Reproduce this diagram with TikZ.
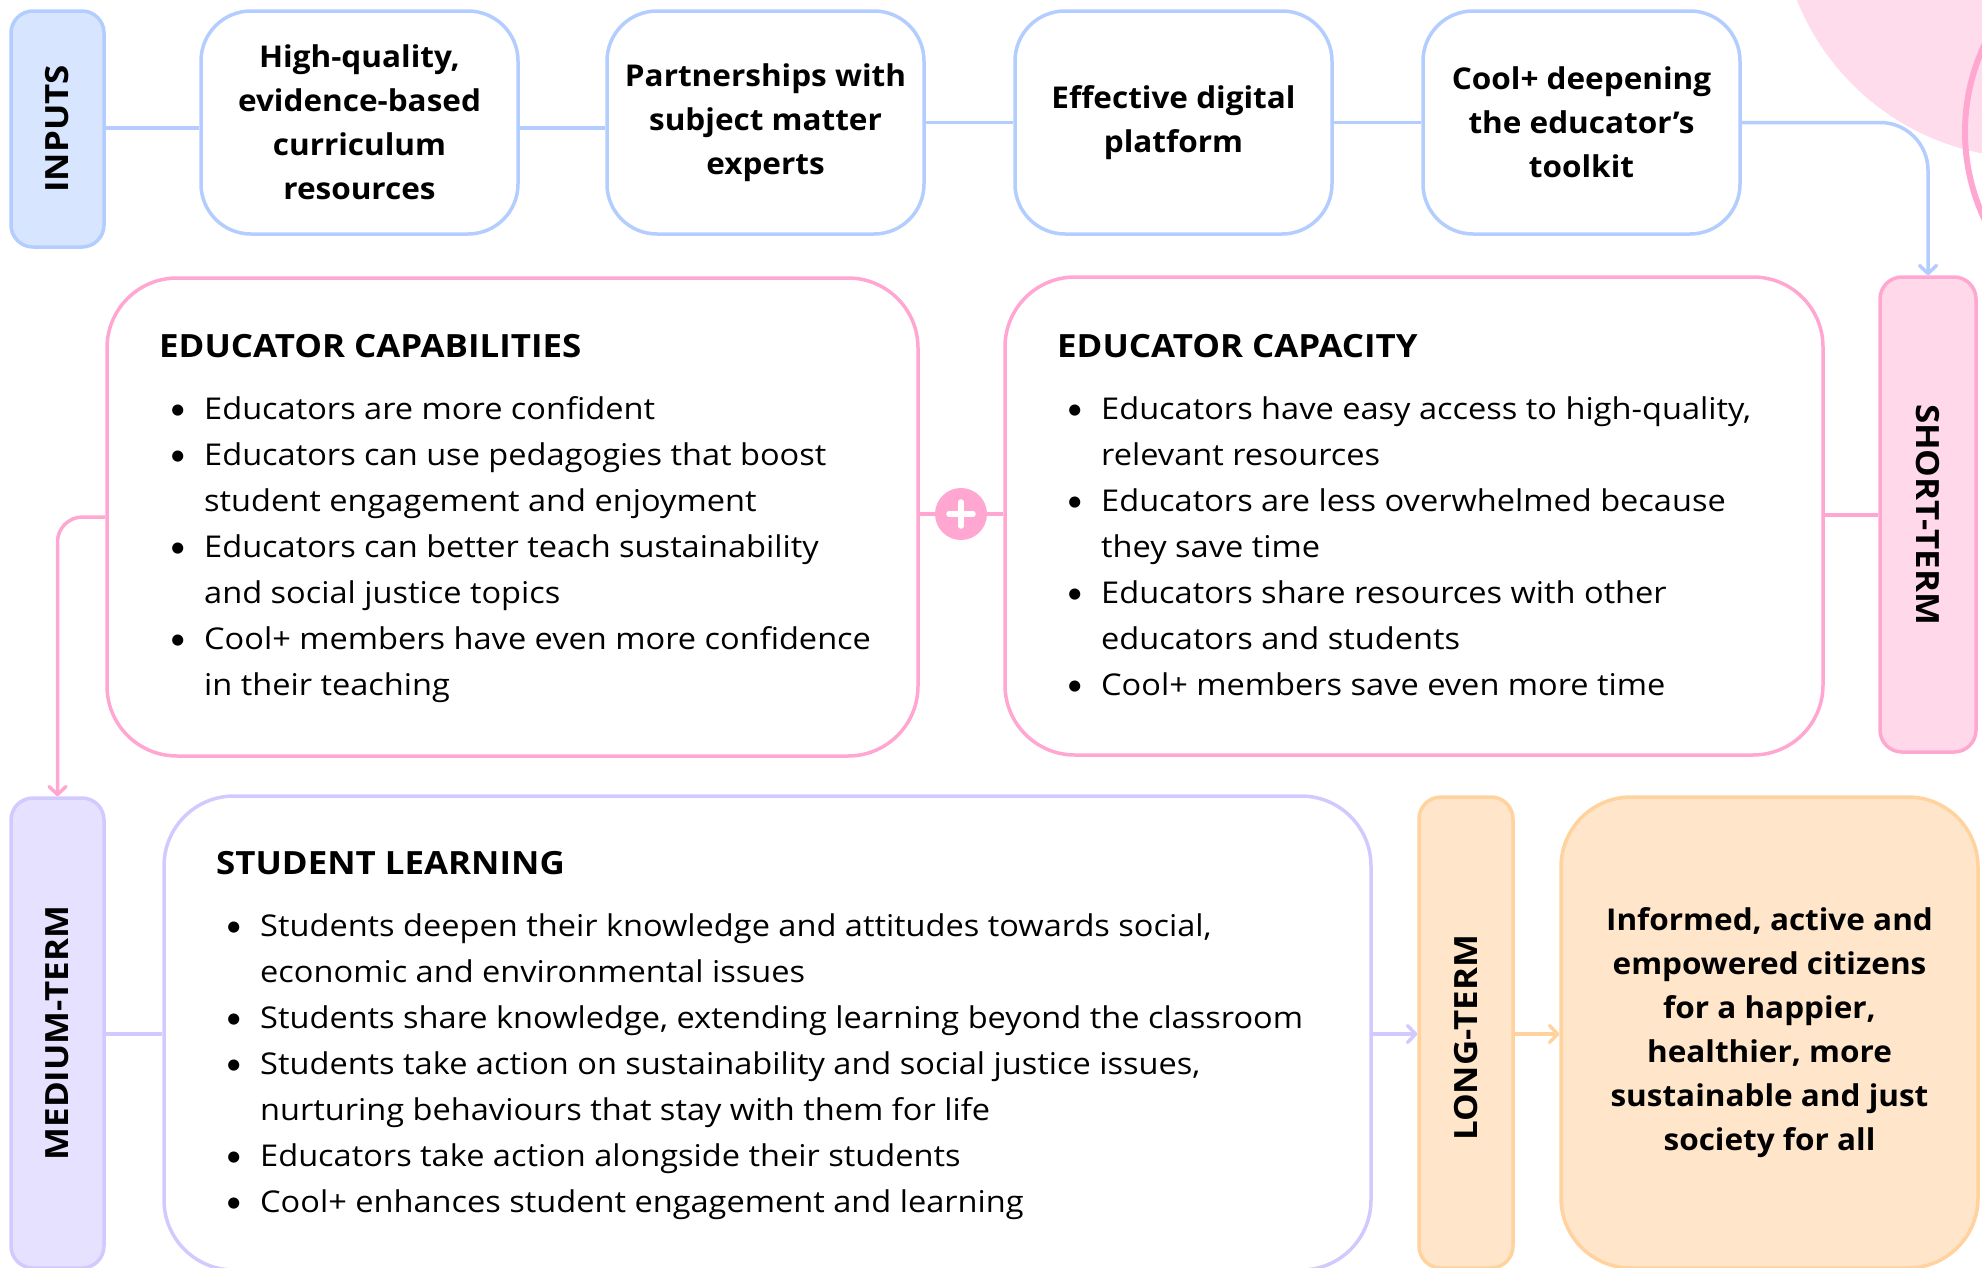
\documentclass[tikz,border=0pt]{standalone}
\usepackage{fontspec}
\setmainfont{Open Sans}
\newfontfamily\bodyf{Open Sans}[FakeStretch=1.085]
\newfontfamily\boldf{Open Sans}[FakeStretch=1.05]
\newfontfamily\capsf{Open Sans}[FakeStretch=1.09]
\newfontfamily\latof{Lato}
\usetikzlibrary{arrows.meta}
\definecolor{blueS}{HTML}{B3CDFF}
\definecolor{blueF}{HTML}{D7E5FF}
\definecolor{pinkS}{HTML}{FFA7D1}
\definecolor{pinkF}{HTML}{FFD8EA}
\definecolor{pinkBG}{HTML}{FFDCEC}
\definecolor{lavS}{HTML}{D2C9FF}
\definecolor{lavF}{HTML}{E6E1FF}
\definecolor{orS}{HTML}{FFD29E}
\definecolor{orF}{HTML}{FFE5C9}
\newcommand\bl{\makebox[35pt][l]{{\latof\textbullet}}}
\newcommand\ct{\hspace*{35pt}}
\tikzset{
  inbox/.style={draw=blueS, fill=white, line width=3.5pt, rounded corners=50pt, inner sep=0pt,
    minimum width=317pt, minimum height=223pt, align=center,
    font=\boldf\fontsize{30}{44}\selectfont\bfseries},
  tag/.style={line width=3.5pt, rounded corners=22pt, inner sep=0pt, minimum width=93pt},
  bigbox/.style={line width=3.5pt, rounded corners=70pt, inner sep=0pt, fill=white},
  lbl/.style={font=\capsf\fontsize{32}{36}\selectfont\bfseries, inner sep=0pt},
  head/.style={font=\capsf\fontsize{32}{36}\selectfont\bfseries, inner sep=0pt, anchor=west},
  body/.style={font=\bodyf\fontsize{30}{46}\selectfont, inner sep=0pt, align=left, anchor=west},
  conn/.style={line width=3.5pt},
  tip/.style={-{Straight Barb[length=8pt,width=17pt,round]}},
}
\begin{document}
\begin{tikzpicture}[x=1pt,y=-1pt]
\useasboundingbox (0,0) rectangle (1982,1267);
\begin{scope}
\clip (0,0) rectangle (1982,1267);
% background decoration
\fill[pinkBG] (2030,-93) circle[radius=251];
\draw[pinkS, line width=6pt] (2170,132) circle[radius=205];

% INPUTS row
\node[tag, draw=blueS, fill=blueF, minimum height=236pt] (inputs) at (57.5,129) {};
\node[lbl, rotate=90] (inputsl) at (inputs) {INPUTS};
\node[inbox] (b1) at (359.5,122.5) {High-quality,\\evidence-based\\curriculum\\resources};
\node[inbox] (b2) at (765.5,122.5) {Partnerships with\\subject matter\\experts};
\node[inbox] (b3) at (1173.5,122.5) {Effective digital\\platform};
\node[inbox] (b4) at (1581.5,122.5) {Cool+ deepening\\the educator’s\\toolkit};

% SHORT-TERM row
\node[tag, draw=pinkS, fill=pinkF, minimum width=96pt, minimum height=475pt] (short) at (1928,514.5) {};
\node[lbl, rotate=-90] (shortl) at (short) {SHORT-TERM};
\node[bigbox, draw=pinkS, minimum width=811pt, minimum height=478pt] (capab) at (512.5,517) {};
\node[bigbox, draw=pinkS, minimum width=818pt, minimum height=478pt] (capac) at (1414,516) {};

\node[head] (capabh) at (159,346) {EDUCATOR CAPABILITIES};
\node[body] (capabt) at (169,549.5) {\bl Educators are more confident\\
\bl Educators can use pedagogies that boost\\
\ct student engagement and enjoyment\\
\bl Educators can better teach sustainability\\
\ct and social justice topics\\
\bl Cool+ members have even more confidence\\
\ct in their teaching};

\node[head] (capach) at (1057,346) {EDUCATOR CAPACITY};
\node[body] (capact) at (1066,546.5) {\bl Educators have easy access to high-quality,\\
\ct relevant resources\\
\bl Educators are less overwhelmed because\\
\ct they save time\\
\bl Educators share resources with other\\
\ct educators and students\\
\bl Cool+ members save even more time};

% MEDIUM / LONG row
\node[tag, draw=lavS, fill=lavF, minimum height=470pt] (medium) at (57.5,1033) {};
\node[lbl, rotate=90] (mediuml) at (medium) {MEDIUM-TERM};
\node[bigbox, draw=lavS, minimum width=1207pt, minimum height=474pt] (student) at (767.5,1033) {};
\node[head] (studenth) at (216,863) {STUDENT LEARNING};
\node[body] (studentt) at (225,1067) {\bl Students deepen their knowledge and attitudes towards social,\\
\ct economic and environmental issues\\
\bl Students share knowledge, extending learning beyond the classroom\\
\bl Students take action on sustainability and social justice issues,\\
\ct nurturing behaviours that stay with them for life\\
\bl Educators take action alongside their students\\
\bl Cool+ enhances student engagement and learning};

\node[tag, draw=orS, fill=orF, minimum width=94pt, minimum height=471pt] (long) at (1466,1032.5) {};
\node[lbl, rotate=90] (longl) at (1466,1038) {LONG-TERM};
\node[bigbox, draw=orS, fill=orF, minimum width=417pt, minimum height=471pt,
  align=center, font=\boldf\fontsize{30}{44}\selectfont\bfseries] (final) at (1769.5,1032.5)
  {Informed, active and\\empowered citizens\\for a happier,\\healthier, more\\sustainable and just\\society for all};

% connectors
\draw[conn, blueS] (inputs.east |- 0,128) -- (b1.west |- 0,128);
\draw[conn, blueS] (b1.east |- 0,128) -- (b2.west |- 0,128);
\draw[conn, blueS] (b2.east) -- (b3.west);
\draw[conn, blueS] (b3.east) -- (b4.west);
\draw[conn, blueS, tip, rounded corners=48pt] (b4.east) -| (short.north);

\draw[conn, pinkS] (capab.east |- 0,514) -- (capac.west |- 0,514);
\node[circle, fill=pinkS, minimum size=52pt, inner sep=0pt] (plus) at (961,514) {};
\draw[white, line width=5.5pt, line cap=round] ([xshift=-12pt]plus.center) -- ([xshift=12pt]plus.center);
\draw[white, line width=5.5pt, line cap=round] ([yshift=-12pt]plus.center) -- ([yshift=12pt]plus.center);
\draw[conn, pinkS] (capac.east |- 0,515) -- (short.west |- 0,515);
\draw[conn, pinkS, tip, rounded corners=25pt] (capab.west) -| (medium.north);

\draw[conn, lavS] (medium.east |- 0,1034) -- (student.west |- 0,1034);
\draw[conn, lavS, tip] (student.east |- 0,1034) -- (long.west |- 0,1034);
\draw[conn, orS, tip] (long.east |- 0,1034) -- (final.west |- 0,1034);
\end{scope}
\end{tikzpicture}
\end{document}
